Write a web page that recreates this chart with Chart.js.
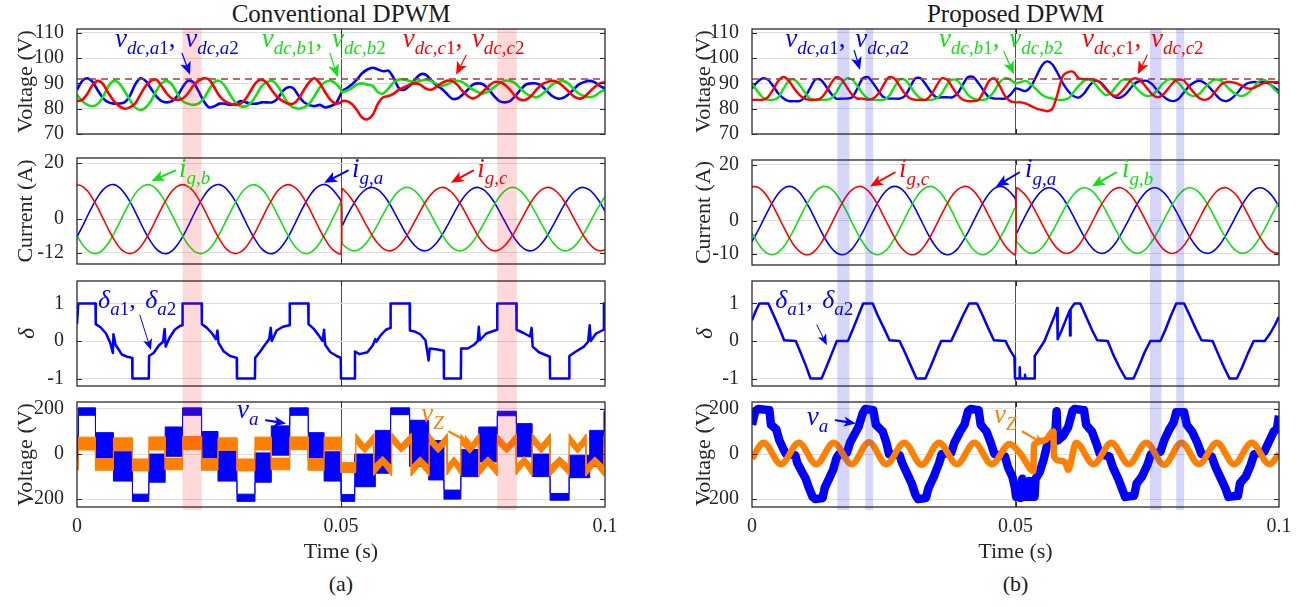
<!DOCTYPE html>
<html>
<head>
<meta charset="utf-8">
<script src="https://cdn.jsdelivr.net/npm/chart.js@4.4.1/dist/chart.umd.min.js"></script>
<style>
body{margin:0;width:1299px;height:607px;background:#fff;position:relative;overflow:hidden;font-family:"Liberation Serif","Times New Roman",serif;color:#1a1a1a}
canvas{position:absolute}
.ttl{position:absolute;text-align:center;font-size:25px;line-height:25px}
.cap{position:absolute;text-align:center;font-size:22px;line-height:22px}
</style>
</head>
<body>
<div class="ttl" style="left:77px;width:528px;top:1px">Conventional DPWM</div>
<div class="ttl" style="left:752px;width:527px;top:1px">Proposed DPWM</div>
<div class="cap" style="left:77px;width:528px;top:573px">(a)</div>
<div class="cap" style="left:752px;width:527px;top:573px">(b)</div>
<script>
/* ---------- data (time in ms) ---------- */

// sample instants for the dc-link voltages and grid currents (extra point right after the step at 50 ms)
const tGrid=[];for(let i=0;i<=100;i++){tGrid.push(i);if(i===50)tGrid.push(50.2)}

// (a) conventional DPWM: dc-link voltages (V)
const vdcA_L=[87.5,91,92,90.5,87,84,82.5,82,82,82.5,85,89.5,92,91,88,85,83,82.5,83,85,88.5,91,90.5,87,83,80.5,81,82,82,81.5,82,83,82.5,82,82,82.5,82.5,82.5,84,87,88.5,88,85,82.5,81.5,81,81.5,80.5,81,82,86,
87,
88,89.5,91.5,94,95.5,96.2,95.5,94.8,95,92,88,87.5,89,91.5,93.5,93.5,91.5,89.5,88,86,84,84,85.5,87.5,89.5,90,89.5,87.5,85,83,82.5,83,85,87.5,89.5,90,90,89,87,85,84,84.2,85.5,87.5,89.5,90.5,91,90.5,89,88]
const vdcB_L=[85.5,83,81.5,81,82,85,89,91,90,87,83.5,80.5,79.5,80.5,83,87,90,91,89.5,86,83,82,81.5,82,84,87.5,90.5,91,89,85.5,82.5,81,81,82.5,85.5,89,90.5,91,89,85.5,82,80.5,80,80.5,82,85,88.5,90.5,91,90,87.5,
86.5,
87,88,89.5,90,89.5,89,86.5,86,88,90.5,91.5,91.5,91,90.5,91,91.5,91,90,89,89.5,90.5,91,90.5,89,87.5,86.5,86,87,88.5,90,91,91,90,88,86,85,84.5,85.5,87.5,89.5,90.5,91,90,88,86,85,84.5,85,86.5,87.5]
const vdcC_L=[83,83.5,86,89.5,91,89.5,86,83,81,80,80.5,82,85.5,89,91,91.5,89,86,84,83.5,84,86,89,91,92,91.5,88.5,85,83,82,81.5,82,84,87.5,90.5,91.5,90,87,84.5,83,82,82,84,87.5,90.5,92,90,86.5,83.5,82,82.5,
83,
83,82,79.5,76.5,75.8,77.5,82,84.5,85,86,87.5,88.5,89.5,90,89.5,88,87.5,88.5,90,91,91,89.5,87,85,84,85,87,89,90.5,90.5,89.5,87.5,85,83.5,83.5,85,87.5,89.5,90.5,91,90.5,89,87,85,84,84.5,86.5,88.5,90,90.5]

// (b) proposed DPWM: dc-link voltages (V)
const vdcA_R=[88,90.5,92,91.5,89,86,84,83,83,83,84.5,88,91.5,91.5,89,86,84,84,84,84.5,88,92,92.5,90,87,84.5,84,84,84,85,88.5,92,92,89.5,86.5,84.5,84.5,84.5,84.5,86,89.5,92.5,92.5,90,87,84.5,84,84,84,85.5,88,
88,
87.5,87,89,93,97,98.7,97.5,94,90,87,85,84.4,86,89,91,90.5,88.5,86,84.5,84.5,86,88.5,90.5,91,91,89.5,87,85,83.5,83,84,86.5,89,90.5,91,90,88,85.5,83.5,83,84,86,88.5,90,90.5,90.5,90.5,90,88.5,87]
const vdcB_R=[90,87,84.5,83.5,83.5,84.5,88,91,91.5,89.5,86.5,84,83.5,83.5,83.5,84,86.5,90,92,91.5,89,86,84,83.5,83.5,83.5,85,88.5,91.5,91.5,89,86,84,83.5,83.5,84,86,89.5,91.5,91,88.5,85.5,84,83.5,83.5,84.5,87,90.5,92,91.5,90,
90,
90.5,91,89.5,87.5,85.5,84.5,84,83.5,83.5,84,86.5,89,91,91.5,90,87.5,85.5,86,88.5,91,91.5,90.5,88,86,85,85.5,87.5,90,91.5,91.5,90,87.5,85.5,85,86,88.5,90.5,91.5,91,89,87,85.5,85,86,88,90.5,91.5,90.5,88,86]
const vdcC_R=[83.5,83.5,83.5,84.5,87.5,91,92.5,91,88,85.5,84,83.5,83.5,84,86.5,90,92.5,91.5,88.5,85.5,84,84,83.5,84,86,89.5,92.5,92,89,86,84,83.5,83.5,83.5,85.5,89,92,91.5,88.5,85.5,83.5,83,83,83.5,87,91,92,89,85,83,82.5,
82.5,
82.5,82,81,80,79.5,79,80,86,93,94.5,94.5,92,91.7,91.7,91.5,90.5,88,86,85,86.5,89,91.5,92,90.5,88,85.5,84.5,85.5,88,90.5,91.5,91,88.5,86,84,83.5,84.5,87,89.5,90.5,90.5,90,89,88,88,89,90,90.5,90.5,90.5]

// dc-link reference (dashed)
const vdcRefT=[0,100]
const vdcRef=[91.7,91.7]

// grid currents (A), (a)
const igA_L=[-6.3,-2.7,1.2,4.9,8.1,10.6,12,12.3,11.3,9.2,6.3,2.7,-1.2,-4.9,-8.1,-10.6,-12,-12.3,-11.3,-9.2,
-6.3,-2.7,1.2,4.9,8.1,10.6,12,12.3,11.3,9.2,6.3,2.7,-1.2,-4.9,-8.1,-10.6,-12,-12.3,-11.3,-9.2,
-6.3,-2.7,1.2,4.9,8.1,10.6,12,12.3,11.3,9.2,6.3,
-2.1,
0.7,4.2,7.2,9.5,10.9,11.3,10.5,8.7,6.1,2.8,-0.7,-4.2,-7.2,-9.5,-10.9,-11.3,-10.5,-8.7,-6.1,-2.8,
0.7,4.2,7.2,9.5,10.9,11.3,10.5,8.7,6.1,2.8,-0.7,-4.2,-7.2,-9.5,-10.9,-11.3,-10.5,-8.7,-6.1,-2.8,
0.7,4.2,7.2,9.5,10.9,11.3,10.5,8.7,6.1,2.8]
const igB_L=[-5.9,-9,-11.1,-12.2,-12.1,-10.8,-8.4,-5.2,-1.5,2.3,5.9,9,11.1,12.2,12.1,10.8,8.4,5.2,1.5,-2.3,
-5.9,-9,-11.1,-12.2,-12.1,-10.8,-8.4,-5.2,-1.5,2.3,5.9,9,11.1,12.2,12.1,10.8,8.4,5.2,1.5,-2.3,
-5.9,-9,-11.1,-12.2,-12.1,-10.8,-8.4,-5.2,-1.5,2.3,5.9,
-8.5,
-10.1,-11.2,-11.2,-10.1,-8,-5.1,-1.8,1.8,5.1,8,10.1,11.2,11.2,10.1,8,5.1,1.8,-1.8,-5.1,-8,
-10.1,-11.2,-11.2,-10.1,-8,-5.1,-1.8,1.8,5.1,8,10.1,11.2,11.2,10.1,8,5.1,1.8,-1.8,-5.1,-8,
-10.1,-11.2,-11.2,-10.1,-8,-5.1,-1.8,1.8,5.1,8]
const igC_L=[12.3,11.7,10,7.2,3.8,0,-3.8,-7.2,-10,-11.7,-12.3,-11.7,-10,-7.2,-3.8,0,3.8,7.2,10,11.7,
12.3,11.7,10,7.2,3.8,0,-3.8,-7.2,-10,-11.7,-12.3,-11.7,-10,-7.2,-3.8,0,3.8,7.2,10,11.7,
12.3,11.7,10,7.2,3.8,0,-3.8,-7.2,-10,-11.7,-12.3,
10.7,
9.5,7.2,4.2,0.7,-2.8,-6.1,-8.7,-10.5,-11.3,-10.9,-9.5,-7.2,-4.2,-0.7,2.8,6.1,8.7,10.5,11.3,10.9,
9.5,7.2,4.2,0.7,-2.8,-6.1,-8.7,-10.5,-11.3,-10.9,-9.5,-7.2,-4.2,-0.7,2.8,6.1,8.7,10.5,11.3,10.9,
9.5,7.2,4.2,0.7,-2.8,-6.1,-8.7,-10.5,-11.3,-10.9]

// grid currents (A), (b)
const igA_R=[-7.5,-4.2,-0.4,3.4,6.9,9.7,11.6,12.3,11.8,10.2,7.5,4.2,0.4,-3.4,-6.9,-9.7,-11.6,-12.3,-11.8,-10.2,
-7.5,-4.2,-0.4,3.4,6.9,9.7,11.6,12.3,11.8,10.2,7.5,4.2,0.4,-3.4,-6.9,-9.7,-11.6,-12.3,-11.8,-10.2,
-7.5,-4.2,-0.4,3.4,6.9,9.7,11.6,12.3,11.8,10.2,7.5,
-4.3,
-1.5,2.2,5.7,8.6,10.7,11.7,11.6,10.3,8.1,5,1.5,-2.2,-5.7,-8.6,-10.7,-11.7,-11.6,-10.3,-8.1,-5,
-1.5,2.2,5.7,8.6,10.7,11.7,11.6,10.3,8.1,5,1.5,-2.2,-5.7,-8.6,-10.7,-11.7,-11.6,-10.3,-8.1,-5,
-1.5,2.2,5.7,8.6,10.7,11.7,11.6,10.3,8.1,5]
const igB_R=[-4.5,-7.8,-10.4,-11.9,-12.3,-11.4,-9.5,-6.6,-3.1,0.8,4.5,7.8,10.4,11.9,12.3,11.4,9.5,6.6,3.1,-0.8,
-4.5,-7.8,-10.4,-11.9,-12.3,-11.4,-9.5,-6.6,-3.1,0.8,4.5,7.8,10.4,11.9,12.3,11.4,9.5,6.6,3.1,-0.8,
-4.5,-7.8,-10.4,-11.9,-12.3,-11.4,-9.5,-6.6,-3.1,0.8,4.5,
-7.2,
-9.3,-11.1,-11.8,-11.3,-9.8,-7.2,-4,-0.4,3.3,6.6,9.3,11.1,11.8,11.3,9.8,7.2,4,0.4,-3.3,-6.6,
-9.3,-11.1,-11.8,-11.3,-9.8,-7.2,-4,-0.4,3.3,6.6,9.3,11.1,11.8,11.3,9.8,7.2,4,0.4,-3.3,-6.6,
-9.3,-11.1,-11.8,-11.3,-9.8,-7.2,-4,-0.4,3.3,6.6]
const igC_R=[12.2,12.1,10.8,8.4,5.2,1.5,-2.3,-5.9,-9,-11.1,-12.2,-12.1,-10.8,-8.4,-5.2,-1.5,2.3,5.9,9,11.1,
12.2,12.1,10.8,8.4,5.2,1.5,-2.3,-5.9,-9,-11.1,-12.2,-12.1,-10.8,-8.4,-5.2,-1.5,2.3,5.9,9,11.1,
12.2,12.1,10.8,8.4,5.2,1.5,-2.3,-5.9,-9,-11.1,-12.2,
11.7,
10.8,8.9,6,2.6,-1.1,-4.7,-7.8,-10.2,-11.5,-11.8,-10.8,-8.9,-6,-2.6,1.1,4.7,7.8,10.2,11.5,11.8,
10.8,8.9,6,2.6,-1.1,-4.7,-7.8,-10.2,-11.5,-11.8,-10.8,-8.9,-6,-2.6,1.1,4.7,7.8,10.2,11.5,11.8,
10.8,8.9,6,2.6,-1.1,-4.7,-7.8,-10.2,-11.5,-11.8]

// modulation index delta_a (a)
const dLt=[0,0.25,3.5,3.55,4.5,5.5,6.3,6.8,6.9,7.3,8.5,9.5,10.45,10.5,13.6,13.65,14.5,15.5,16.3,16.6,16.8,17.5,18.5,19.5,19.95,20,23.6,23.65,24.6,25.6,26.3,26.6,26.8,27.8,29,30.25,30.3,33.7,33.75,34.6,35.6,36.4,36.7,36.9,37.8,39,40.25,40.3,43.8,43.85,44.8,45.8,46.5,46.8,47,48,49.2,49.95,50,52.6,52.65,53.5,55,56,56.5,56.7,57.5,58.5,59.35,59.4,63,63.05,64,65,66,66.6,66.8,68,69.45,69.5,72.7,72.75,74,75.2,75.9,76.1,76.3,77.5,79.55,79.6,83.2,83.25,84.5,85.8,86.1,86.3,87.5,89.55,89.6,93.2,93.25,94.5,96,96.8,97.1,97.3,98.3,99.75,99.8,100]
const dLv=[0.45,1,1,0.45,0.36,0.2,-0.05,-0.32,0.18,-0.1,-0.36,-0.42,-0.45,-1,-1,-0.4,-0.32,-0.12,-0.02,0.32,-0.15,0.08,0.3,0.4,0.42,1,1,0.45,0.35,0.2,0.05,0.28,-0.05,-0.28,-0.4,-0.45,-1,-1,-0.45,-0.3,-0.1,0.05,0.35,0,0.28,0.38,0.42,1,1,0.45,0.33,0.15,0,0.3,-0.1,-0.3,-0.4,-0.45,-1,-1,-0.28,-0.35,-0.3,-0.12,0.05,-0.02,0.15,0.3,0.35,1,1,0.28,0.25,0.18,0.02,-0.52,-0.2,-0.22,-0.26,-1,-1,-0.2,-0.2,-0.1,0,0.38,0.02,0.2,0.3,1,1,0.3,0.22,0.12,0.35,-0.15,-0.3,-0.42,-1,-1,-0.4,-0.28,-0.15,-0.02,0.42,0,0.2,0.3,1,1]

// modulation index delta_a (b)
const dRt=[0,0.7,1.4,3.1,4,5,5.6,6.1,8.3,9.2,10.2,11.1,13.2,14.1,15.1,16.1,18.2,19.1,20.1,21.1,22.9,23.8,25,26.1,28,29,30.1,31.2,32.9,33.9,35,35.9,37.8,38.9,40.1,41.2,42.7,43.7,44.8,45.9,48.1,49,49.8,49.9,50.7,50.8,50.9,51.7,51.8,51.9,53.6,53.65,54.6,55.5,56.5,57.5,57.9,58,58.8,59.8,60.3,60.35,60.45,61.2,62.3,63.3,64.5,65.5,67.5,68.5,69.7,70.9,72.4,73.4,74.5,75.6,77.5,78.5,79.5,80.5,82,83,84.2,85.3,87.4,88.4,89.5,90.6,92,93,94.1,95.2,97.3,98.3,99.2,100]
const dRv=[0.55,0.8,1,1,0.72,0.4,0.2,0.02,0,-0.3,-0.65,-1,-1,-0.7,-0.35,0,0,0.3,0.65,1,1,0.7,0.35,0.02,0,-0.3,-0.65,-1,-1,-0.68,-0.3,0,0,0.33,0.7,1,1,0.7,0.35,0.02,0,-0.25,-0.43,-1,-1,-0.7,-1,-1,-0.9,-1,-1,-0.4,-0.2,0,0.35,0.7,0.88,0.05,0.3,0.65,0.82,0.15,0.85,1,1,0.68,0.3,0.02,0,-0.35,-0.7,-1,-1,-0.68,-0.3,0,0,0.32,0.68,1,1,0.7,0.33,0.02,0,-0.33,-0.68,-1,-1,-0.7,-0.33,0,0,0.2,0.42,0.65]

// (a) phase voltage v_a: switching band, upper / lower edge held until next instant
const vaLt=[0,0.25,3.5,6.9,10.5,13.6,16.7,20,23.6,26.7,30.3,33.7,36.8,40.3,43.8,46.8,50,52.6,56.5,59.4,63,66.6,69.5,72.7,76.1,79.6,83.2,86.2,89.6,93.2,97.1,99.8,100]
const vaLhi=[80,205,95,10,-178,0,120,205,100,15,-178,5,125,205,95,10,-180,0,105,205,150,60,-160,20,120,190,135,0,-175,-5,105,190,190]
const vaLlo=[-40,172,-25,-120,-210,-125,-10,172,-25,-120,-210,-125,-5,172,-30,-120,-210,-145,-85,175,-55,-115,-200,-100,-35,170,-12,-100,-205,-105,-55,100,100]

// (a) zero-sequence voltage v_Z band
const vzLt=[0,0.25,0.25,3.5,3.5,6.9,6.9,10.5,10.5,13.6,13.6,16.7,16.7,20,20,23.6,23.6,26.7,26.7,30.3,30.3,33.7,33.7,36.8,36.8,40.3,40.3,43.8,43.8,46.8,46.8,50,
50,52.8,52.8,54.5,56.2,56.2,57.9,59.6,59.6,61.4,63.3,63.3,65,66.7,66.7,68.4,70.1,70.1,71.4,72.7,72.7,74.4,76.1,76.1,77.8,79.6,79.6,81.4,83.2,83.2,84.7,86.2,86.2,87.9,89.6,89.6,91.4,93.2,93.2,94.8,96.4,96.4,98.1,99.8,99.8,100]
const vzLhi=[-25,-25,75,75,-20,-20,72,72,-22,-22,76,76,-18,-18,78,78,-20,-20,72,72,-22,-22,75,75,-18,-18,76,76,-20,-20,75,75,
-38,-38,90,42,90,-48,-10,-52,94,44,92,-52,-12,-52,92,42,90,-48,-12,-50,88,38,90,-52,-12,-52,88,42,90,-48,-10,-52,92,42,90,-52,-12,-50,90,40,88,-52,-12,-52,82,82]
const vzLlo=[-72,-72,18,18,-72,-72,16,16,-75,-75,18,18,-70,-70,20,20,-72,-72,16,16,-75,-75,18,18,-70,-70,20,20,-72,-72,18,18,
-82,-82,48,5,48,-95,-48,-98,50,8,48,-98,-50,-98,48,5,48,-92,-48,-95,45,3,48,-98,-50,-98,45,5,48,-92,-48,-98,50,5,48,-98,-50,-95,48,3,45,-98,-50,-98,38,38]

// (b) phase voltage v_a and zero-sequence voltage v_Z
const vaRt=[0,0.6,1.2,3.3,3.6,4.6,5.2,6,6.5,8.2,8.6,9.5,10.2,10.8,11.5,12,13.4,13.8,14.6,15.4,16,16.5,18,18.6,19.5,20.2,21,21.5,23,23.5,24.8,25.5,26,28,28.5,29.5,30.3,31,31.5,33,33.5,34.5,35.5,36,37.8,38.4,39.5,40.3,41,41.5,43,43.4,44.5,45.3,46,48,48.6,49.4,49.9,50.1,51,51.3,51.5,52.4,52.6,52.8,53.6,53.8,54.6,55.4,56,56.8,57.6,57.8,58,59,60,60.8,61.2,63,63.4,64.5,65.3,66,67.8,68.5,69.5,70.3,70.8,72.5,73,74,75,75.7,77.5,78.2,79.2,80,80.5,82,82.5,83.5,84.5,85.3,87.2,88,89,89.8,90.4,92.2,92.6,93.7,94.6,95.3,97.2,98,99,99.6,100]
const vaRv=[130,190,200,195,130,110,60,20,0,-5,-40,-80,-110,-150,-190,-200,-195,-150,-110,-70,-20,0,5,50,90,120,180,200,195,130,100,50,0,-5,-40,-90,-130,-180,-200,-195,-150,-100,-40,0,5,50,100,130,190,200,195,130,100,50,0,-10,-60,-100,-150,-190,-195,-110,-190,-190,-120,-190,-190,-110,-80,-20,40,80,110,190,60,80,120,190,200,195,130,100,50,0,-10,-60,-110,-160,-190,-185,-130,-100,-50,0,10,60,110,140,185,185,130,100,50,0,-10,-60,-110,-150,-190,-185,-130,-100,-50,0,10,50,100,110,170]
const vzRt=[0,2.2,5.5,8.9,12.2,15.5,18.9,22.2,25.5,28.9,32.2,35.5,38.9,42.2,45.5,48.9,51,53.4,53.5,55.5,57.2,57.3,58.5,59.5,60,61.5,64.8,68.2,71.5,74.8,78.2,81.5,84.8,88.2,91.5,94.8,98.2,100]
const vzRv=[-20,50,-45,50,-45,50,-45,52,-45,50,-48,50,-45,50,-45,45,0,-75,40,60,100,-10,-30,-40,-70,50,-45,50,-45,50,-48,50,-45,50,-45,50,-45,0]

// axis ticks
const xTicks=[0,0.05,0.1]
const xLabels=['0','0.05','0.1']
const vdcTicks=[70,80,90,100,110]
const igTicks=[-12,0,20]
const igLabelsL=['-12','0','20']
const igLabelsR=['-10','0','20']
const dTicks=[-1,0,1]
const vTicks=[-200,0,200]

// highlighted intervals (ms)
const bandsL=[[20,23.6],[79.6,83.3]]
const bandsR=[[16.2,18.5],[21.5,23],[75.5,77.7],[80.5,82]]

/* ---------- drawing ---------- */
const SERIF='"Liberation Serif", "Times New Roman", Times, serif'
const BLUE='#0000ff',GREEN='#12e012',RED='#ff0000',ORANGE='#ff8000',INK='#262626'
Chart.defaults.font.family=SERIF
Chart.defaults.color=INK

const colL={x:0,w:620,axisW:77,padR:15,titlePad:13,bands:bandsL,bandColor:'rgba(255,30,30,0.17)'}
const colR={x:680,w:619,axisW:72,padR:20,titlePad:11,bands:bandsR,bandColor:'rgba(50,50,235,0.2)'}

function pts(t,v){return t.map((x,i)=>({x:x/1000,y:v[i]}))}
function ds(t,v,color,w,extra){
  return Object.assign({data:pts(t,v),borderColor:color,backgroundColor:color,borderWidth:w,pointRadius:0,fill:false,tension:0,borderJoinStyle:'round'},extra||{})
}

function drawMath(ctx,str,x,y,color,big,small){
  const parts=str.split(/(_\{[^}]*\}|_.)/).filter(Boolean)
  let cx=x
  ctx.fillStyle=color;ctx.textAlign='left';ctx.textBaseline='alphabetic'
  for(const p of parts){
    let sub=false,s=p
    if(p[0]==='_'){sub=true;s=p[1]==='{'?p.slice(2,-1):p.slice(1)}
    for(const ch of s){
      const up=/[0-9,\s]/.test(ch)
      ctx.font=(up?'':'italic ')+(sub?small:big)+'px '+SERIF
      ctx.fillText(ch,cx,sub?y+big*0.27:y)
      cx+=ctx.measureText(ch).width+(ch===','&&!sub?3:0)
    }
  }
}

function arrow(ctx,x0,y0,x1,y1,color,w,head){
  const a=Math.atan2(y1-y0,x1-x0),c=Math.cos(a),s=Math.sin(a)
  ctx.strokeStyle=color;ctx.fillStyle=color;ctx.lineWidth=w;ctx.lineCap='round'
  ctx.beginPath();ctx.moveTo(x0,y0);ctx.lineTo(x1-c*head*0.7,y1-s*head*0.7);ctx.stroke()
  ctx.beginPath();ctx.moveTo(x1,y1)
  ctx.lineTo(x1-head*c+head*0.42*s,y1-head*s-head*0.42*c)
  ctx.lineTo(x1-head*0.75*c,y1-head*0.75*s)
  ctx.lineTo(x1-head*c-head*0.42*s,y1-head*s+head*0.42*c)
  ctx.closePath();ctx.fill()
}

const deco={
  id:'deco',
  afterDatasetsDraw(ch,args,o){
    const {ctx,chartArea:ca,scales:{x,y}}=ch
    ctx.save()
    ctx.fillStyle=o.bandColor
    o.bands.forEach(b=>{
      const x0=x.getPixelForValue(b[0]/1000),x1=x.getPixelForValue(b[1]/1000)
      ctx.fillRect(x0,ca.top-o.extT,x1-x0,ca.bottom-ca.top+o.extT+o.extB)
    })
    ctx.strokeStyle='#2a2a2a';ctx.lineWidth=1.3
    ctx.strokeRect(ca.left,ca.top,ca.right-ca.left,ca.bottom-ca.top)
    ctx.lineWidth=1
    y.ticks.forEach(t=>{
      const py=Math.round(y.getPixelForValue(t.value))+0.5
      ctx.beginPath();ctx.moveTo(ca.left,py);ctx.lineTo(ca.left+5,py);ctx.moveTo(ca.right-5,py);ctx.lineTo(ca.right,py);ctx.stroke()
    })
    const px=Math.round(x.getPixelForValue(0.05))+0.5
    ctx.beginPath();ctx.moveTo(px,ca.bottom);ctx.lineTo(px,ca.bottom-5);ctx.moveTo(px,ca.top);ctx.lineTo(px,ca.top+5);ctx.stroke()
    ctx.restore()
  },
  afterDraw(ch,args,o){
    const {ctx,scales:{x,y}}=ch
    ctx.save()
    ;(o.arrows||[]).forEach(a=>arrow(ctx,x.getPixelForValue(a[0]/1000),y.getPixelForValue(a[1]),x.getPixelForValue(a[2]/1000),y.getPixelForValue(a[3]),a[4],a[5],a[6]))
    ;(o.texts||[]).forEach(t=>drawMath(ctx,t[0],x.getPixelForValue(t[1]/1000),y.getPixelForValue(t[2]),t[3],t[4]||27,t[5]||19))
    ctx.restore()
  }
}

const charts=[]
function panel(col,row,ycfg,sets,notes){
  const cv=document.createElement('canvas')
  cv.width=col.w;cv.height=row.h
  cv.style.left=col.x+'px';cv.style.top=row.top+'px'
  document.body.appendChild(cv)
  charts.push(new Chart(cv,{
    type:'line',
    data:{datasets:sets},
    options:{
      responsive:false,animation:false,events:[],
      layout:{padding:{top:row.padT,bottom:row.padB,left:0,right:col.padR}},
      plugins:{legend:{display:false},tooltip:{enabled:false},
        deco:Object.assign({bands:col.bands,bandColor:col.bandColor,extT:row.extT,extB:row.extB},notes)},
      scales:{
        x:{type:'linear',min:0,max:0.1,
          afterBuildTicks:s=>{s.ticks=xTicks.map(v=>({value:v}))},
          afterFit:s=>{s.height=row.xh;s.paddingLeft=0;s.paddingRight=0},
          grid:{drawTicks:false,lineWidth:1,color:c=>c.index===1?'#505050':'rgba(0,0,0,0)'},
          border:{display:false},
          ticks:{display:row.xh>0,padding:8,font:{size:20,family:SERIF},color:INK,maxRotation:0,autoSkip:false,callback:(v,i)=>xLabels[i]},
          title:{display:row.xh>0,text:'Time (s)',font:{size:22,family:SERIF},color:INK,padding:{top:0,bottom:42}}},
        y:{min:ycfg.min,max:ycfg.max,
          afterBuildTicks:s=>{s.ticks=ycfg.ticks.map(v=>({value:v}))},
          afterFit:s=>{s.width=col.axisW;s.paddingTop=0;s.paddingBottom=0},
          grid:{drawTicks:false,color:'#dedede',lineWidth:1},
          border:{display:false},
          ticks:{padding:13,font:{size:20,family:SERIF},color:INK,autoSkip:false,callback:(v,i)=>ycfg.labels[i]},
          title:{display:true,text:ycfg.title,font:Object.assign({size:22,family:SERIF},ycfg.tfont||{}),color:INK,padding:{top:col.titlePad,bottom:0}}}
      }
    },
    plugins:[deco]
  }))
}

const row1={top:0,h:146,padT:29,padB:12,xh:0,extT:0,extB:12}
const row2L={top:146,h:126,padT:12,padB:8,xh:0,extT:12,extB:8}
const row2R={top:146,h:126,padT:14,padB:7,xh:0,extT:14,extB:7}
const row3={top:272,h:122,padT:9,padB:8,xh:0,extT:9,extB:8}
const row4={top:394,h:213,padT:8,padB:0,xh:100,extT:8,extB:3}

const yV={min:70,max:111.5,ticks:vdcTicks,labels:vdcTicks.map(String),title:'Voltage (V)'}

// (a) row 1
panel(colL,row1,yV,[
  ds(vdcRefT,vdcRef,'#a8373a',1.5,{borderDash:[7,5]}),
  ds(tGrid,vdcC_L,RED,2.6,{tension:0.3}),
  ds(tGrid,vdcB_L,GREEN,2.6,{tension:0.3}),
  ds(tGrid,vdcA_L,BLUE,2.6,{tension:0.3})
],{
  texts:[['v_{dc,a1}, v_{dc,a2}',7.2,104.5,BLUE],['v_{dc,b1}, v_{dc,b2}',35,104.5,GREEN],['v_{dc,c1}, v_{dc,c2}',61.7,104.5,RED]],
  arrows:[[19.9,101.9,21.4,93.4,BLUE,1.2,13],[47.9,101.9,49.4,92.4,GREEN,1.2,13],[73.7,101.1,71.8,93.4,RED,1.2,13]]
})
// (b) row 1
panel(colR,row1,yV,[
  ds(vdcRefT,vdcRef,'#a8373a',1.5,{borderDash:[7,5]}),
  ds(tGrid,vdcC_R,RED,2.4,{tension:0.3}),
  ds(tGrid,vdcB_R,GREEN,2.4,{tension:0.3}),
  ds(tGrid,vdcA_R,BLUE,2.4,{tension:0.3})
],{
  texts:[['v_{dc,a1}, v_{dc,a2}',6.3,104.5,BLUE],['v_{dc,b1}, v_{dc,b2}',35.5,104.5,GREEN],['v_{dc,c1}, v_{dc,c2}',62.6,104.5,RED]],
  arrows:[[19.4,103,20.5,95.3,BLUE,1.2,13],[47.8,102.6,49.7,93.6,GREEN,1.2,13],[75,101.1,73.2,93.6,RED,1.2,13]]
})

// row 2: grid currents
panel(colL,row2L,{min:-16,max:21.8,ticks:igTicks,labels:igLabelsL,title:'Current (A)'},[
  ds(tGrid,igC_L,RED,1.6,{tension:0.3}),
  ds(tGrid,igB_L,GREEN,1.6,{tension:0.3}),
  ds(tGrid,igA_L,BLUE,1.6,{tension:0.3})
],{
  texts:[['i_{g,b}',19.3,15.2,GREEN],['i_{g,a}',52.1,15.2,BLUE],['i_{g,c}',75.8,15.2,RED]],
  arrows:[[18.6,17.3,14.1,13.6,GREEN,2,13],[51.3,17.3,46.8,13,BLUE,2,13],[75,17.3,70.8,13,RED,2,13]]
})
panel(colR,row2R,{min:-16,max:21.8,ticks:igTicks,labels:igLabelsR,title:'Current (A)'},[
  ds(tGrid,igC_R,RED,1.6,{tension:0.3}),
  ds(tGrid,igB_R,GREEN,1.6,{tension:0.3}),
  ds(tGrid,igA_R,BLUE,1.6,{tension:0.3})
],{
  texts:[['i_{g,c}',27.9,15.6,RED],['i_{g,a}',51.8,15.6,BLUE],['i_{g,b}',70.2,15.6,GREEN]],
  arrows:[[27.1,17.3,22.4,12.3,RED,2,13],[50.7,17.3,46.3,12.3,BLUE,2,13],[69.1,17.3,64.5,12.3,GREEN,2,13]]
})

// row 3: delta
const yD={min:-1.2,max:1.6,ticks:dTicks,labels:['-1','0','1'],title:'δ',tfont:{style:'italic',size:24}}
panel(colL,row3,yD,[ds(dLt,dLv,BLUE,2.5)],{
  texts:[['δ_{a1}, δ_{a2}',4,0.88,BLUE,26,19]],
  arrows:[[11.9,0.69,14,-0.24,BLUE,1,11]]
})
panel(colR,row3,yD,[ds(dRt,dRv,BLUE,2.5)],{
  texts:[['δ_{a1}, δ_{a2}',4.4,0.88,BLUE,26,19]],
  arrows:[[12.3,0.43,14.2,-0.11,BLUE,1,11]]
})

// row 4: v_a and v_Z
const yVa={min:-235,max:231,ticks:vTicks,labels:['-200','0','200'],title:'Voltage (V)'}
panel(colL,row4,yVa,[
  ds(vzLt,vzLhi,ORANGE,1,{fill:'+1'}),
  ds(vzLt,vzLlo,ORANGE,1),
  ds(vaLt,vaLhi,BLUE,1,{fill:'+1',stepped:true}),
  ds(vaLt,vaLlo,BLUE,1,{stepped:true})
],{
  texts:[['v_a',30.3,160,BLUE],['v_Z',65.2,143,ORANGE]],
  arrows:[[35.8,150,39.6,136,BLUE,2.2,12],[70.5,99,75,42,ORANGE,2.2,12]]
})
panel(colR,row4,yVa,[
  ds(vzRt,vzRv,ORANGE,6.5,{cubicInterpolationMode:'monotone'}),
  ds(vaRt,vaRv,BLUE,8.5)
],{
  texts:[['v_a',10.4,130,BLUE],['v_Z',45.9,138,ORANGE]],
  arrows:[[15.9,150,19.7,136,BLUE,2.2,12],[51.4,99,55.6,42,ORANGE,2.2,12]]
})

// redraw once the serif faces are confirmed available to the canvas
Promise.all([document.fonts.load('20px "Liberation Serif"'),document.fonts.load('italic 20px "Liberation Serif"')])
  .then(()=>charts.forEach(c=>c.draw())).catch(()=>{})
</script>
</body>
</html>
